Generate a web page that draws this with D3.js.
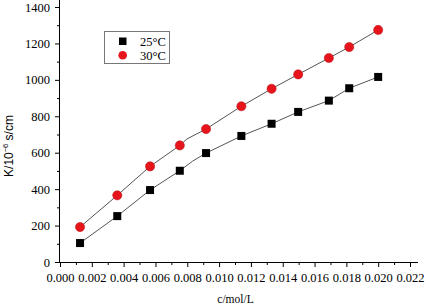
<!DOCTYPE html>
<html>
<head>
<meta charset="utf-8">
<script src="https://cdn.jsdelivr.net/npm/d3@7"></script>
<style>
  body { margin: 0; background: #fff; }
  svg text { font-family: "Liberation Serif", "DejaVu Serif", serif; fill: #000; }
</style>
</head>
<body>
<svg id="chart" width="425" height="305"></svg>
<script>
// data
const conc = [0.00126, 0.0036, 0.00566, 0.00753, 0.00918, 0.0114, 0.0133, 0.01497, 0.0169, 0.01818, 0.0200];
const k25 = [104, 252, 395, 501, 598, 692, 759, 824, 886, 954, 1016];
const k30 = [192, 366, 525, 640, 730, 855, 951, 1030, 1120, 1180, 1274];

// fitted line vertices (incl. the bend)
const line25c = [0.00126, 0.0036, 0.00566, 0.00753, 0.00834, 0.00918, 0.0114, 0.0133, 0.01497, 0.0169, 0.01818, 0.0200];
const line25k = [104, 252, 395, 501, 554, 598, 692, 759, 824, 886, 954, 1016];
const line30c = [0.00126, 0.0036, 0.00566, 0.00753, 0.00797, 0.00918, 0.0114, 0.0133, 0.01497, 0.0169, 0.01818, 0.0200];
const line30k = [192, 366, 525, 640, 675, 730, 855, 951, 1030, 1120, 1180, 1274];

const xTicks = d3.range(0, 0.0221, 0.002);
const yTicks = d3.range(0, 1401, 200);

const svg = d3.select("#chart");
const x = d3.scaleLinear().domain([0, 0.022]).range([60, 410]);
const y = d3.scaleLinear().domain([0, 1400]).range([262, 7]);

// axes
const xAxis = svg.append("g")
    .attr("transform", "translate(0,262)")
    .call(d3.axisBottom(x).tickValues(xTicks).tickFormat(d3.format(".3f")).tickSize(5).tickSizeOuter(0));
svg.append("g")
    .attr("transform", "translate(0,262)")
    .call(d3.axisBottom(x).tickValues(d3.range(0.001, 0.022, 0.002)).tickFormat("").tickSize(3).tickSizeOuter(0))
    .select(".domain").remove();

const yAxis = svg.append("g")
    .attr("transform", "translate(60,0)")
    .call(d3.axisLeft(y).tickValues(yTicks).tickFormat(d3.format("d")).tickSize(5).tickSizeOuter(0));
svg.append("g")
    .attr("transform", "translate(60,0)")
    .call(d3.axisLeft(y).tickValues(d3.range(100, 1400, 200)).tickFormat("").tickSize(3).tickSizeOuter(0))
    .select(".domain").remove();

svg.selectAll(".domain").attr("stroke", "#000");
xAxis.select(".domain").attr("d", "M60,0.5H418");
yAxis.select(".domain").attr("d", "M-0.5,0V262");
svg.selectAll(".tick line").attr("stroke", "#000");
svg.selectAll(".tick text").style("font-size", "12.5px");
xAxis.selectAll(".tick text").attr("dy", 0).attr("y", 19.5);
yAxis.selectAll(".tick text").attr("x", -10);
svg.selectAll("g").attr("font-family", null);

// axis titles
svg.append("text")
    .attr("x", 235.5).attr("y", 303)
    .attr("text-anchor", "middle")
    .style("font-size", "11.5px")
    .text("c/mol/L");

const yl = svg.append("text")
    .attr("transform", "translate(13,146) rotate(-90)")
    .attr("text-anchor", "middle")
    .style("font-family", "'Liberation Sans', Arial, sans-serif")
    .style("font-size", "12px");
yl.append("tspan").text("K/10");
yl.append("tspan").attr("dy", -5).style("font-size", "7.5px").text("−6");
yl.append("tspan").attr("dy", 5).text(" s/cm");

// fitted lines
const line = d3.line().x(d => x(d[0])).y(d => y(d[1]));
svg.append("path")
    .datum(d3.zip(line25c, line25k))
    .attr("d", line)
    .attr("fill", "none").attr("stroke", "#555").attr("stroke-width", 1);
svg.append("path")
    .datum(d3.zip(line30c, line30k))
    .attr("d", line)
    .attr("fill", "none").attr("stroke", "#555").attr("stroke-width", 1);

// markers
const s = 8;
svg.selectAll(".sq")
    .data(d3.zip(conc, k25))
    .enter().append("rect")
    .attr("class", "sq")
    .attr("x", d => x(d[0]) - s / 2)
    .attr("y", d => y(d[1]) - s / 2)
    .attr("width", s).attr("height", s)
    .attr("fill", "#000");

svg.selectAll(".ci")
    .data(d3.zip(conc, k30))
    .enter().append("circle")
    .attr("class", "ci")
    .attr("cx", d => x(d[0]))
    .attr("cy", d => y(d[1]))
    .attr("r", 4.6)
    .attr("fill", "#e8141c")
    .attr("stroke", "#b01010").attr("stroke-width", 0.5);

// legend
const lg = svg.append("g");
lg.append("rect")
    .attr("x", 104.5).attr("y", 31.5).attr("width", 65).attr("height", 32)
    .attr("fill", "#fff").attr("stroke", "#777").attr("stroke-width", 1);
lg.append("rect").attr("x", 119).attr("y", 37.5).attr("width", 7.5).attr("height", 7.5).attr("fill", "#000");
lg.append("circle").attr("cx", 122.7).attr("cy", 55.3).attr("r", 4.3).attr("fill", "#e8141c");
lg.append("text").attr("x", 140).attr("y", 46).style("font-size", "12.5px").text("25°C");
lg.append("text").attr("x", 140).attr("y", 60).style("font-size", "12.5px").text("30°C");
</script>
</body>
</html>
